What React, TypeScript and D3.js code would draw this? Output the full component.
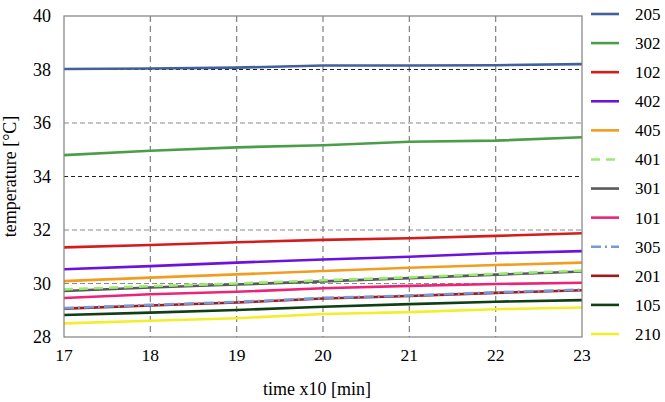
import React from 'react'
import * as d3 from 'd3'

// time axis (x10 min)
const times = [17, 18, 19, 20, 21, 22, 23]

// temperature readings per sensor, one value per time step
const s205 = [38.02, 38.04, 38.07, 38.15, 38.15, 38.16, 38.2]
const s302 = [34.8, 34.96, 35.09, 35.17, 35.3, 35.34, 35.47]
const s102 = [31.35, 31.44, 31.54, 31.63, 31.69, 31.78, 31.88]
const s402 = [30.53, 30.65, 30.78, 30.9, 31.0, 31.13, 31.21]
const s405 = [30.09, 30.22, 30.34, 30.47, 30.59, 30.69, 30.78]
const s401 = [29.78, 29.9, 30.0, 30.12, 30.23, 30.36, 30.48]
const s301 = [29.72, 29.85, 29.96, 30.08, 30.2, 30.33, 30.45]
const s101 = [29.46, 29.6, 29.69, 29.82, 29.91, 29.98, 30.03]
const s305 = [29.08, 29.2, 29.31, 29.46, 29.55, 29.67, 29.77]
const s201 = [29.06, 29.18, 29.29, 29.44, 29.53, 29.65, 29.75]
const s105 = [28.82, 28.91, 29.01, 29.13, 29.23, 29.32, 29.38]
const s210 = [28.51, 28.61, 28.7, 28.86, 28.93, 29.04, 29.1]

const yTicks = [28, 30, 32, 34, 36, 38, 40]

interface Series {
  name: string
  values: number[]
  color: string
  dash?: string
}

const series: Series[] = [
  { name: '205', values: s205, color: '#41609c' },
  { name: '302', values: s302, color: '#4b9e48' },
  { name: '102', values: s102, color: '#d41c1c' },
  { name: '402', values: s402, color: '#6c12e0' },
  { name: '405', values: s405, color: '#f29c20' },
  { name: '401', values: s401, color: '#9aea74', dash: '9,6' },
  { name: '301', values: s301, color: '#595959' },
  { name: '101', values: s101, color: '#ec2478' },
  { name: '305', values: s305, color: '#7898d8', dash: '10,4,2,4' },
  { name: '201', values: s201, color: '#a01a1a' },
  { name: '105', values: s105, color: '#103f14' },
  { name: '210', values: s210, color: '#f2ee2c' },
]

const W = 665
const H = 402
const left = 64
const right = 582
const top = 16
const bottom = 337
const font = '"Liberation Serif", "Times New Roman", Times, serif'

export default function App() {
  const x = d3.scaleLinear().domain([17, 23]).range([left, right])
  const y = d3.scaleLinear().domain([28, 40]).range([bottom, top])
  const line = d3
    .line<number>()
    .x((_, i) => x(times[i]))
    .y(d => y(d))

  const legendY = d3
    .scalePoint<string>()
    .domain(series.map(s => s.name))
    .range([14, 334])

  // later legend entries go underneath, so dashed lines sit on top of their twins
  const drawOrder = [...series].reverse()

  return (
    <svg
      width={W}
      height={H}
      style={{ position: 'absolute', left: 0, top: 0, background: '#fff', fontFamily: font }}
    >
      {/* vertical grid */}
      {times.slice(1, -1).map(t => (
        <line
          key={'vx' + t}
          x1={x(t)}
          x2={x(t)}
          y1={top}
          y2={bottom}
          stroke="#808080"
          strokeWidth={1.2}
          strokeDasharray="6,4"
        />
      ))}
      {/* horizontal grid */}
      {yTicks.slice(1, -1).map(v => (
        <line
          key={'hy' + v}
          x1={left}
          x2={right}
          y1={y(v)}
          y2={y(v)}
          stroke={v === 34 || v === 38 ? '#222' : '#8a8a8a'}
          strokeWidth={1.2}
          strokeDasharray={v === 34 || v === 38 ? '4,3' : '5,3'}
        />
      ))}

      {drawOrder.map(s => (
        <path
          key={s.name}
          d={line(s.values) ?? ''}
          fill="none"
          stroke={s.color}
          strokeWidth={2.6}
          strokeDasharray={s.dash}
        />
      ))}

      <rect
        x={left}
        y={top}
        width={right - left}
        height={bottom - top}
        fill="none"
        stroke="#808080"
        strokeWidth={1.2}
      />

      {yTicks.map(v => (
        <text key={'yt' + v} x={51} y={y(v)} dy="0.35em" textAnchor="end" fontSize={18}>
          {v}
        </text>
      ))}
      {times.map(t => (
        <text key={'xt' + t} x={x(t)} y={361} textAnchor="middle" fontSize={17.5}>
          {t}
        </text>
      ))}

      <text x={317} y={395} textAnchor="middle" fontSize={18}>
        time x10 [min]
      </text>
      <text
        transform={`translate(16,${(top + bottom) / 2}) rotate(-90)`}
        textAnchor="middle"
        fontSize={18}
      >
        temperature [°C]
      </text>

      {series.map(s => (
        <g key={'lg' + s.name} transform={`translate(0,${legendY(s.name)})`}>
          <line
            x1={591}
            x2={619}
            stroke={s.color}
            strokeWidth={2.6}
            strokeDasharray={s.dash}
          />
          <text x={635} dy="0.35em" fontSize={17}>
            {s.name}
          </text>
        </g>
      ))}
    </svg>
  )
}
